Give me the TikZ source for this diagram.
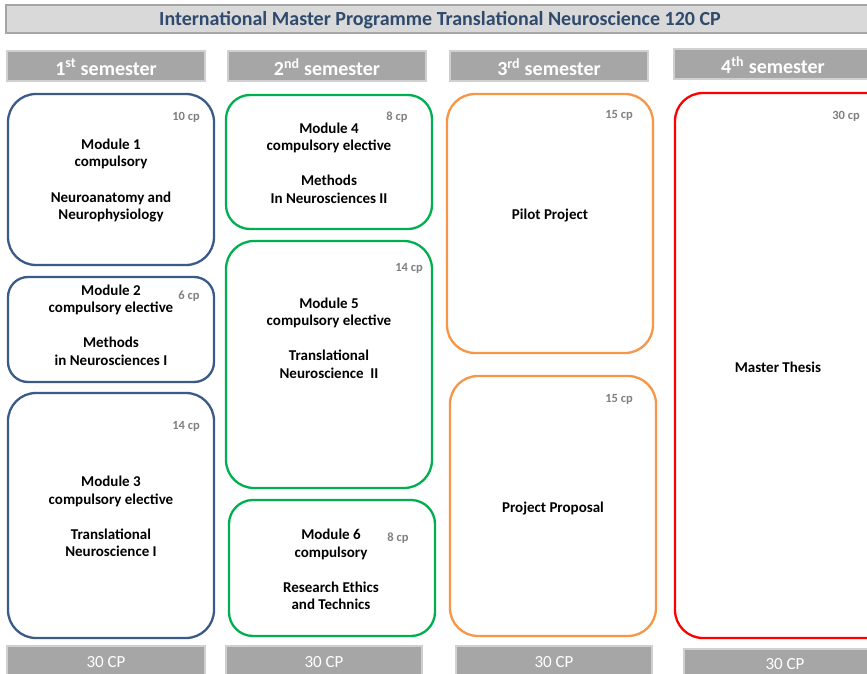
\documentclass[tikz,border=0pt]{standalone}
\usepackage{fontspec}
\setmainfont{Carlito}
\definecolor{hdrgray}{HTML}{A6A6A6}
\definecolor{hdrline}{HTML}{D0D0D0}
\definecolor{titlefill}{HTML}{D9D9D9}
\definecolor{titletext}{HTML}{2F4A6D}
\definecolor{bluebox}{HTML}{3A5A88}
\definecolor{greenbox}{HTML}{00B050}
\definecolor{orangebox}{HTML}{F79646}
\definecolor{redbox}{HTML}{FF0000}
\definecolor{cpgray}{HTML}{808080}
\begin{document}
\begin{tikzpicture}[x=1pt,y=-1pt,
  hdr/.style={fill=hdrgray,draw=hdrline,line width=1.5pt},
  hdrtext/.style={text=white,font=\bfseries\fontsize{20}{22}\selectfont},
  foot/.style={fill=hdrgray,draw=hdrline,line width=1.5pt},
  foottext/.style={text=white,font=\fontsize{17}{19}\selectfont},
  mod/.style={draw,line width=2.3pt,rounded corners=28pt,fill=white},
  modtext/.style={align=center,font=\bfseries\fontsize{15}{17.6}\selectfont},
  cp/.style={text=cpgray,font=\bfseries\fontsize{12.5}{14}\selectfont}]
\useasboundingbox (0,0) rectangle (867,674);
\fill[white] (0,0) rectangle (867,674);
% title
\draw[fill=titlefill,draw=hdrgray,line width=1.5pt] (6,5) rectangle (880,33);
\node[text=titletext,font=\bfseries\fontsize{20}{22}\selectfont] (title) at (440,20) {International Master Programme Translational Neuroscience 120 CP};
% headers
\draw[hdr] (7,51) rectangle (205,81);
\node[hdrtext] (h1) at (106,67) {1\textsuperscript{st} semester};
\draw[hdr] (228,51) rectangle (426,81);
\node[hdrtext] (h2) at (327,67) {2\textsuperscript{nd} semester};
\draw[hdr] (450,51) rectangle (648,81);
\node[hdrtext] (h3) at (549,67) {3\textsuperscript{rd} semester};
\draw[hdr] (674,49) rectangle (880,79);
\node[hdrtext] (h4) at (773,65) {4\textsuperscript{th} semester};
% footers
\draw[foot] (7,646) rectangle (205,680);
\node[foottext] (f1) at (106,662) {30 CP};
\draw[foot] (226,646) rectangle (422,680);
\node[foottext] (f2) at (324,662) {30 CP};
\draw[foot] (456,646) rectangle (652,680);
\node[foottext] (f3) at (554,662) {30 CP};
\draw[foot] (684,649) rectangle (880,680);
\node[foottext] (f4) at (785,664) {30 CP};
% semester 1
\draw[mod,draw=bluebox] (8,94) rectangle (214,265);
\node[cp] (c1) at (186,117) {10 cp};
\node[modtext] (m1) at (111,180.5) {Module 1\\compulsory\\[17.6pt]Neuroanatomy and\\Neurophysiology};
\draw[mod,draw=bluebox,rounded corners=20pt] (8,277) rectangle (214,382);
\node[cp] (c2) at (189,296) {6 cp};
\node[modtext] (m2) at (111,325) {Module 2\\compulsory elective\\[17.6pt]Methods\\in Neurosciences I};
\draw[mod,draw=bluebox] (8,393) rectangle (214,638);
\node[cp] (c3) at (186,426) {14 cp};
\node[modtext] (m3) at (111,516.5) {Module 3\\compulsory elective\\[17.6pt]Translational\\Neuroscience I};
% semester 2
\draw[mod,draw=greenbox,rounded corners=24pt] (226,95) rectangle (432,229);
\node[cp] (c4) at (397,117) {8 cp};
\node[modtext] (m4) at (329,163) {Module 4\\compulsory elective\\[17.6pt]Methods\\In Neurosciences II};
\draw[mod,draw=greenbox] (226,241) rectangle (432,488);
\node[cp] (c5) at (409,268) {14 cp};
\node[modtext] (m5) at (329,338) {Module 5\\compulsory elective\\[17.6pt]Translational\\Neuroscience\ \ II};
\draw[mod,draw=greenbox,rounded corners=24pt] (229,500) rectangle (435,636);
\node[cp] (c6) at (398,538) {8 cp};
\node[modtext] (m6) at (331,569.5) {Module 6\\compulsory\\[17.6pt]Research Ethics\\and Technics};
% semester 3
\draw[mod,draw=orangebox] (447,94) rectangle (653,353);
\node[cp] (c7) at (619,115) {15 cp};
\node[modtext] (m7) at (550,216) {Pilot Project};
\draw[mod,draw=orangebox] (450,376) rectangle (656,636);
\node[cp] (c8) at (619,399) {15 cp};
\node[modtext] (m8) at (553,508) {Project Proposal};
% semester 4
\draw[mod,draw=redbox] (675,93) rectangle (900,638);
\node[cp] (c9) at (846,116) {30 cp};
\node[modtext] (m9) at (778,367) {Master Thesis};
\end{tikzpicture}
\end{document}
